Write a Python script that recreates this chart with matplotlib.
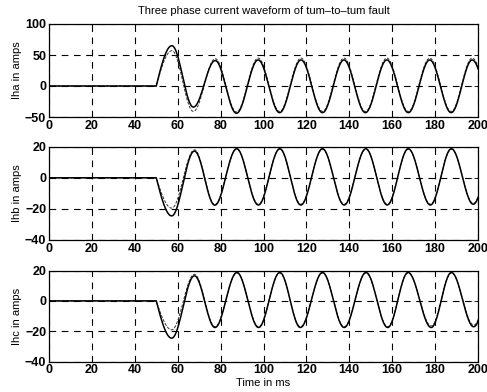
import numpy as np
import matplotlib
matplotlib.use("Agg")
import matplotlib.pyplot as plt

plt.rcParams['font.family'] = ['Liberation Sans', 'DejaVu Sans']

# ---- data: extrema (time in ms, current in A) of each trace ----
t_a = [0, 50, 57.3, 67.3, 77.5, 87.4, 97.5, 107.5, 117.5, 127.5, 137.5, 147.5, 157.5, 167.5, 177.5, 187.5, 197.3, 207.5]
ia_model = [0, 0, 65, -34, 41, -44, 42, -43, 42, -43, 42, -43, 42, -43, 42, -43, 42, -43]
ia_meas = [0, 0, 57, -41, 44, -42, 45, -41, 45, -41, 45, -41, 45, -41, 45, -41, 45, -41]

t_b = [0, 50, 57.2, 67.8, 77.3, 87.5, 97.6, 107.6, 117.4, 127.5, 137.6, 147.7, 157.7, 167.5, 177.8, 187.6, 197.8, 207.7]
ib_model = [0, 0, -24.5, 17.2, -17.6, 18.7, -17.5, 18.7, -17.5, 18.7, -17.5, 18.7, -17.5, 18.7, -17.5, 18.7, -17.0, 18.7]
ib_meas = [0, 0, -19.5, 18.0, -17.2, 18.4, -17.0, 18.4, -17.0, 18.4, -17.0, 18.4, -17.0, 18.4, -17.0, 18.4, -16.5, 18.4]

t_c = [0, 50, 57.2, 67.8, 77.4, 87.6, 97.7, 107.6, 117.2, 127.5, 137.6, 147.8, 157.9, 167.4, 178.2, 187.6, 198.0, 207.8]
ic_model = [0, 0, -24.5, 16.5, -17.5, 18.7, -17.5, 18.7, -17.5, 18.7, -17.5, 18.7, -17.5, 18.7, -17.5, 18.7, -17.0, 18.7]
ic_meas = [0, 0, -19.0, 17.5, -17.0, 18.4, -17.0, 18.4, -17.0, 18.4, -17.0, 18.4, -17.0, 18.4, -16.5, 18.4, -16.0, 18.4]

x_ticks = [0, 20, 40, 60, 80, 100, 120, 140, 160, 180, 200]
ya_ticks = [-50, 0, 50, 100]
yb_ticks = [-40, -20, 0, 20]
title = "Three phase current waveform of tum\u2013to\u2013tum fault"
ylabels = ["Iha in amps", "Ihb in amps", "Ihc in amps"]
xlabel = "Time in ms"


def shape(tk, vk, n=60):
    """Smooth half-wave segments between successive extrema."""
    xs, ys = [], []
    for i in range(len(tk) - 1):
        s = np.linspace(0, 1, n)
        t0, t1, v0, v1 = tk[i], tk[i + 1], vk[i], vk[i + 1]
        if i == 1:  # onset from zero: quarter wave
            v = v1 * np.sin(np.pi / 2 * s)
        else:
            v = v0 + (v1 - v0) * (1 - np.cos(np.pi * s)) / 2
        xs.append(t0 + (t1 - t0) * s)
        ys.append(v)
    return np.concatenate(xs), np.concatenate(ys)


W, H = 487, 392
fig = plt.figure(figsize=(W / 100, H / 100), dpi=100)
boxes = [(24, 117), (146.7, 240), (270.5, 361.7)]
left, right = 49, 478
panels = [
    (t_a, ia_model, ia_meas, ya_ticks, (-50, 100)),
    (t_b, ib_model, ib_meas, yb_ticks, (-40, 20)),
    (t_c, ic_model, ic_meas, yb_ticks, (-40, 20)),
]
axes = []
for k, ((top, bot), (tk, vm, vd, yt, ylim)) in enumerate(zip(boxes, panels)):
    ax = fig.add_axes([left / W, (H - bot) / H, (right - left) / W, (bot - top) / H])
    x, y = shape(tk, vm)
    ax.plot(x, y, color='black', lw=1.1, zorder=3)
    x2, y2 = shape(tk, vd)
    ax.plot(x2, y2, color='#333333', lw=0.7, ls=(0, (3, 1.5)), zorder=2)
    ax.set_xlim(0, 200)
    ax.set_ylim(*ylim)
    ax.set_xticks(x_ticks)
    ax.set_yticks(yt)
    ax.grid(True, color='black', ls=(0, (6, 5)), lw=0.8)
    ax.tick_params(direction='in', length=3, width=0.6, top=True, right=True,
                   labelsize=9, pad=2)
    for lab in ax.get_xticklabels() + ax.get_yticklabels():
        lab.set_fontweight('bold')
    for sp in ax.spines.values():
        sp.set_linewidth(0.9)
    ax.set_ylabel(ylabels[k], fontsize=8)
    ax.yaxis.set_label_coords(-0.063, 0.5)
    axes.append(ax)

axes[0].set_title(title, fontsize=8, pad=7)
axes[2].set_xlabel(xlabel, fontsize=8, labelpad=1)

fig.savefig("out.png", dpi=100)
